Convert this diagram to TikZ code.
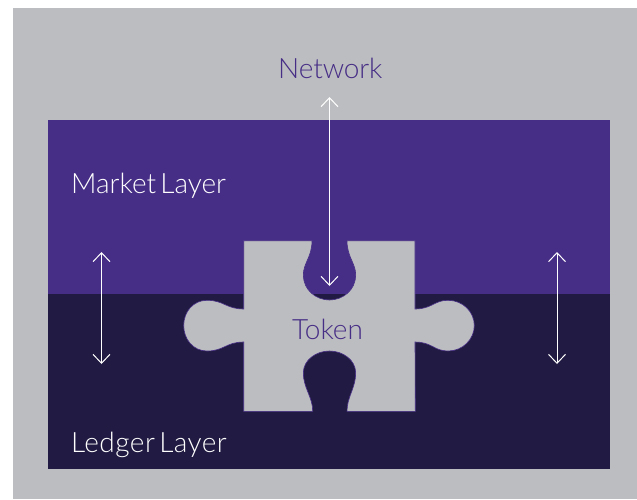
\documentclass[tikz,border=0pt]{standalone}
\usepackage{fontspec}
\setmainfont[WordSpace=0.55]{Lato Light}
\usetikzlibrary{arrows.meta}
\definecolor{bggrey}{HTML}{BCBDC0}
\definecolor{mpurple}{HTML}{462D86}
\definecolor{ldark}{HTML}{211A42}
\tikzset{
  lbl/.style={font=\fontsize{28}{32}\selectfont, inner sep=0pt, anchor=base west},
  dbl/.style={draw=white, line width=1pt, {Straight Barb[length=9pt,width=17pt,line width=1pt]}-{Straight Barb[length=9pt,width=17pt,line width=1pt]}}
}
\begin{document}
\begin{tikzpicture}[x=1pt,y=-1pt]
\useasboundingbox (0,0) rectangle (637,499);
\fill[bggrey] (13,8) rectangle (637,499);
\fill[mpurple] (48,120) rectangle (610,293.5);
\fill[ldark] (48,293.5) rectangle (610,469);
\draw[fill=bggrey, draw=mpurple, line width=0.6pt]
  (243.7,240.7) -- (312,240.7)
  .. controls (312,257) and (303.3,263) .. (303.3,275)
  .. controls (303.3,290) and (316,300) .. (329.5,300)
  .. controls (343,300) and (355.7,290) .. (355.7,275)
  .. controls (355.7,263) and (347,257) .. (347,240.7)
  -- (415,240.7) -- (415,309)
  .. controls (432,309) and (434,300.3) .. (448,300.3)
  .. controls (463,300.3) and (474.3,312) .. (474.3,325.5)
  .. controls (474.3,339) and (463,351) .. (448,351)
  .. controls (434,351) and (432,342) .. (415,342)
  -- (415.3,411.3) -- (347,411.3)
  .. controls (347,397) and (355.7,388) .. (355.7,373)
  .. controls (355.7,360) and (343,351) .. (329.5,351)
  .. controls (316,351) and (303.3,360) .. (303.3,373)
  .. controls (303.3,388) and (312.7,397) .. (312.7,411.3)
  -- (243.7,411.3) -- (243.7,342)
  .. controls (226,342) and (224,351) .. (207,351)
  .. controls (193,351) and (183.7,339) .. (183.7,325.5)
  .. controls (183.7,312) and (193,300.3) .. (207,300.3)
  .. controls (224,300.3) and (226,309) .. (243.7,309)
  -- cycle;
\node[lbl, text=mpurple] (network) at (278,78) {\addfontfeature{LetterSpace=-0.4}Network};
\node[lbl, text=white] (market) at (71,193) {Market Layer};
\node[lbl, text=mpurple] (token) at (292,339) {Token};
\node[lbl, text=white] (ledger) at (71,452) {\addfontfeature{LetterSpace=1.6}Ledger Layer};
\coordinate (na) at (329.5,97);
\coordinate (nb) at (329.5,286);
\coordinate (la) at (101.5,252);
\coordinate (lb) at (101.5,364);
\coordinate (ra) at (557,252);
\coordinate (rb) at (557,364);
\draw[dbl] (na) -- (nb);
\draw[dbl] (la) -- (lb);
\draw[dbl] (ra) -- (rb);
\end{tikzpicture}
\end{document}
